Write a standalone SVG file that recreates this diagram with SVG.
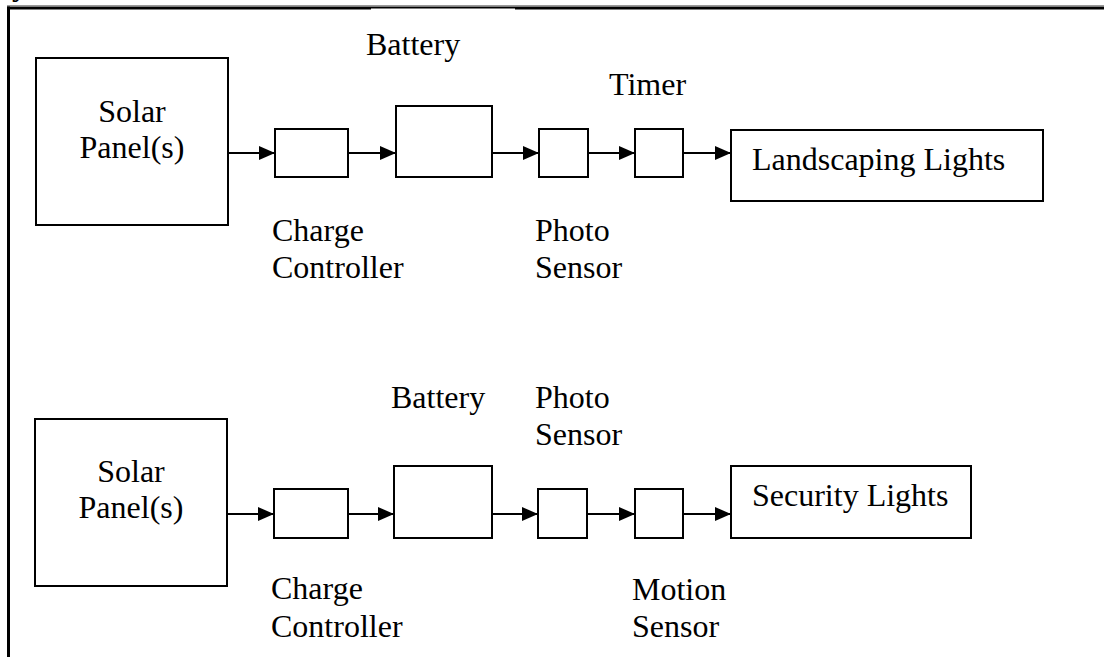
<svg xmlns="http://www.w3.org/2000/svg" width="1104" height="657" viewBox="0 0 1104 657">
<style>
.box{fill:#fff;stroke:#000;stroke-width:2}
.t{font-family:"Liberation Serif","Times New Roman",serif;font-size:32px;fill:#000}
.c{stroke:#000;stroke-width:2;fill:none;marker-end:url(#ah)}
.m{text-anchor:middle}
</style>
<defs>
<marker id="ah" markerUnits="userSpaceOnUse" markerWidth="16" markerHeight="14" refX="16" refY="7" orient="auto">
<path d="M0,0 L16,7 L0,14 Z" fill="#000"/>
</marker>
</defs>
<rect width="1104" height="657" fill="#fff"/>
<g id="frame">
<text class="t" x="12" y="-5">y</text>
<line x1="7" y1="5.5" x2="1104" y2="5.5" stroke="#999" stroke-width="1"/>
<line x1="7" y1="8" x2="371" y2="8" stroke="#000" stroke-width="3"/>
<line x1="371" y1="7.5" x2="515" y2="7.5" stroke="#000" stroke-width="2"/>
<line x1="515" y1="8" x2="1104" y2="8" stroke="#000" stroke-width="3"/>
<line x1="8.5" y1="6.5" x2="8.5" y2="657" stroke="#000" stroke-width="3"/>
</g>
<g id="connectors">
<line class="c" x1="228" y1="153" x2="275" y2="153"/>
<line class="c" x1="348" y1="153" x2="396" y2="153"/>
<line class="c" x1="492" y1="153" x2="539" y2="153"/>
<line class="c" x1="588" y1="153" x2="635" y2="153"/>
<line class="c" x1="683" y1="153" x2="731" y2="153"/>
<line class="c" x1="227" y1="514" x2="274" y2="514"/>
<line class="c" x1="348" y1="514" x2="394" y2="514"/>
<line class="c" x1="492" y1="514" x2="538" y2="514"/>
<line class="c" x1="587" y1="514" x2="635" y2="514"/>
<line class="c" x1="683" y1="514" x2="731" y2="514"/>
</g>
<g id="solar1">
<rect class="box" x="36" y="58" width="192" height="167"/>
<text class="t m" x="132" y="122">Solar</text>
<text class="t m" x="132" y="158">Panel(s)</text>
</g>
<g id="charge1">
<rect class="box" x="275" y="129" width="73" height="48"/>
<text class="t" x="272" y="241">Charge</text>
<text class="t" x="272" y="278">Controller</text>
</g>
<g id="battery1">
<rect class="box" x="396" y="106" width="96" height="71"/>
<text class="t" x="366" y="55">Battery</text>
</g>
<g id="photo1">
<rect class="box" x="539" y="129" width="49" height="48"/>
<text class="t" x="535" y="241">Photo</text>
<text class="t" x="535" y="278">Sensor</text>
</g>
<g id="timer1">
<rect class="box" x="635" y="129" width="48" height="48"/>
<text class="t" x="609" y="95">Timer</text>
</g>
<g id="landscape">
<rect class="box" x="731" y="130" width="312" height="71"/>
<text class="t" x="752" y="170">Landscaping Lights</text>
</g>
<g id="solar2">
<rect class="box" x="35" y="419" width="192" height="167"/>
<text class="t m" x="131" y="482">Solar</text>
<text class="t m" x="131" y="518">Panel(s)</text>
</g>
<g id="charge2">
<rect class="box" x="274" y="489" width="74" height="49"/>
<text class="t" x="271" y="599">Charge</text>
<text class="t" x="271" y="637">Controller</text>
</g>
<g id="battery2">
<rect class="box" x="394" y="466" width="98" height="72"/>
<text class="t" x="391" y="408">Battery</text>
</g>
<g id="photo2">
<rect class="box" x="538" y="489" width="49" height="49"/>
<text class="t" x="535" y="408">Photo</text>
<text class="t" x="535" y="445">Sensor</text>
</g>
<g id="motion">
<rect class="box" x="635" y="489" width="48" height="49"/>
<text class="t" x="632" y="600">Motion</text>
<text class="t" x="632" y="637">Sensor</text>
</g>
<g id="security">
<rect class="box" x="731" y="466" width="240" height="72"/>
<text class="t" x="752" y="506">Security Lights</text>
</g>
</svg>
